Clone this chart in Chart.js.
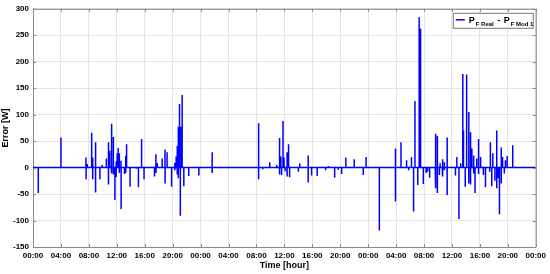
<!DOCTYPE html>
<html>
<head>
<meta charset="utf-8">
<script src="https://cdn.jsdelivr.net/npm/chart.js@4"></script>
<style>
  html, body { margin: 0; padding: 0; background: #fff; }
  #wrap { width: 550px; height: 274px; }
</style>
</head>
<body>
<div id="wrap"><canvas id="errChart" width="550" height="274"></canvas></div>
<script>
// --- Data (hours since start of day 1, error in W) ---
const xMin = 0, xMax = 72, xStep = 4;
const yMin = -150, yMax = 300, yStep = 50;

const spikeHours = [
  0.76, 4.0, 7.58, 7.6, 7.77, 8.4, 8.54, 8.56, 8.95, 8.97, 9.58, 9.9, 10.5, 10.8, 10.82,
  11.0, 11.2, 11.3, 11.5, 11.52, 11.73, 11.9, 11.92, 12.06, 12.2, 12.35, 12.37, 12.6, 12.62,
  13.1, 13.26, 13.28, 13.4, 13.9, 14.8, 15.1, 15.55, 15.9, 17.4, 17.6, 17.62, 17.8, 18.5,
  18.9, 18.92, 19.2, 19.85, 20.3, 20.32, 20.5, 20.65, 20.67, 20.8, 20.82, 20.98, 21.1, 21.2,
  21.36, 21.6, 22.3, 23.75, 25.65, 25.67,
  32.3, 32.32, 32.9, 33.9, 34.9, 35.3, 35.32, 35.5, 35.6, 35.8, 35.95, 36.1, 36.38, 36.4,
  36.6, 36.75, 38.0, 38.2, 39.4, 39.42, 39.9, 40.7, 41.9, 42.3, 43.2, 43.7, 44.2, 44.8,
  46.0, 47.3, 47.7, 49.6,
  51.9, 51.92, 52.7, 53.5, 53.8, 54.2, 54.5, 54.7, 55.1, 55.3, 55.5, 55.9, 56.3, 56.5, 56.8,
  57.6, 57.7, 57.9, 57.92, 58.2, 58.3, 58.6, 58.7, 58.9, 58.92, 59.3, 59.32, 60.5, 60.7,
  61.0, 61.25, 61.55, 61.65, 61.9, 62.1, 62.4, 62.42, 62.65, 62.67, 62.85, 63.1, 63.12,
  63.3, 63.55, 63.8, 63.82, 64.1, 64.5, 64.8, 65.4, 65.5, 65.7, 65.85, 66.15, 66.4, 66.42,
  66.6, 66.8, 67.05, 67.07, 67.25, 67.5, 67.65, 67.9, 68.7
];
const spikeErrors = [
  -48, 57, 19, -22, 7, 66, 19, -22, 48, -47, -22, 5, 17, 48, -32,
  32, 83, -11, 58, -13, -61, 12, -18, 27, 37, 27, -10, 13, -78,
  -12, 22, -10, 44, -36, -2, -37, 54, -22, -17, 25, -10, 8, 17,
  34, -30, 29, -36, 9, -5, 21, 41, -13, 77, -20, 120, -91, 77,
  137, -35, -16, -15, 29, -10,
  84, -22, -3, 10, 5, 56, -13, 21, -14, 88, 19, -7, 29, -17,
  44, -18, -8, 8, 23, -28, -15, -16, -5, 3, -19, -4, -12, 19,
  16, -14, 20, -119,
  36, -64, 48, 14, -5, 20, -83, 126, -33, 284, 263, -31, -10, -8, -19,
  -39, 64, 60, -48, -14, 8, -17, 16, 10, -5, 57, -52, -15, 20,
  -97, 8, 177, 70, -36, 176, 105, -30, 67, -32, 36, 23, -11,
  -48, 17, 54, -12, 20, -14, -37, -8, 48, -35, 27, -25, 70, -39,
  -20, -88, 38, -30, 20, -11, 14, 22, 42
];

// each spike: go up/down from zero and back at the same time stamp
const points = [{ x: xMin, y: 0 }];
spikeHours.forEach((t, i) => {
  points.push({ x: t, y: 0 }, { x: t, y: spikeErrors[i] }, { x: t, y: 0 });
});
points.push({ x: xMax, y: 0 });

const tickFont = { family: "'Liberation Sans', Arial, sans-serif", size: 8, weight: "bold" };
const titleFont = { family: "'Liberation Sans', Arial, sans-serif", size: 9, weight: "bold" };

// --- Legend with subscripts, drawn inside the plot ---
const subLegend = {
  id: "subLegend",
  afterDraw(chart) {
    const ctx = chart.ctx;
    const a = chart.chartArea;
    const x0 = a.right - 83, y0 = a.top + 4, w = 80, h = 15;
    ctx.save();
    ctx.fillStyle = "#fff";
    ctx.fillRect(x0, y0, w, h);
    ctx.strokeStyle = "#777";
    ctx.lineWidth = 1;
    ctx.strokeRect(x0 + 0.5, y0 + 0.5, w, h);
    ctx.strokeStyle = "#0000ff";
    ctx.lineWidth = 1.5;
    ctx.beginPath();
    ctx.moveTo(x0 + 3, y0 + 7);
    ctx.lineTo(x0 + 12, y0 + 7);
    ctx.stroke();
    ctx.fillStyle = "#000";
    ctx.textBaseline = "alphabetic";
    const big = "bold 9px 'Liberation Sans', Arial, sans-serif";
    const small = "bold 6px 'Liberation Sans', Arial, sans-serif";
    let x = x0 + 16;
    const yb = y0 + 10;
    const parts = [
      ["P", big, 0], ["F Real", small, 3], [" - ", big, 0], ["P", big, 0], ["F Mod 1", small, 3]
    ];
    parts.forEach(([txt, font, dy]) => {
      ctx.font = font;
      ctx.fillText(txt, x, yb + dy);
      x += ctx.measureText(txt).width + 1;
    });
    ctx.restore();
  }
};

// --- Box frame and inward tick marks like the original axes ---
const boxFrame = {
  id: "boxFrame",
  afterDraw(chart) {
    const a = chart.chartArea, ctx = chart.ctx;
    const xs = chart.scales.x, ys = chart.scales.y;
    ctx.save();
    ctx.strokeStyle = "#888";
    ctx.lineWidth = 1;
    ctx.beginPath();
    ctx.moveTo(a.left, a.top + 0.5);
    ctx.lineTo(a.right + 0.5, a.top + 0.5);
    ctx.lineTo(a.right + 0.5, a.bottom);
    xs.ticks.forEach(t => {
      const px = Math.round(xs.getPixelForValue(t.value)) + 0.5;
      ctx.moveTo(px, a.top); ctx.lineTo(px, a.top + 3);
      ctx.moveTo(px, a.bottom); ctx.lineTo(px, a.bottom - 3);
    });
    ys.ticks.forEach(t => {
      const py = Math.round(ys.getPixelForValue(t.value)) + 0.5;
      ctx.moveTo(a.left, py); ctx.lineTo(a.left + 3, py);
      ctx.moveTo(a.right, py); ctx.lineTo(a.right - 3, py);
    });
    ctx.stroke();
    ctx.restore();
  }
};

new Chart(document.getElementById("errChart"), {
  type: "line",
  data: {
    datasets: [{
      label: "P F Real - P F Mod 1",
      data: points,
      borderColor: "#0000ff",
      borderWidth: 1.5,
      pointRadius: 0,
      fill: false,
      tension: 0
    }]
  },
  options: {
    responsive: false,
    animation: false,
    parsing: false,
    layout: { padding: { top: 7, right: 14, left: 0, bottom: 0 } },
    plugins: { legend: { display: false }, tooltip: { enabled: false } },
    scales: {
      x: {
        type: "linear",
        min: xMin,
        max: xMax,
        afterFit: s => { s.height = 27; },
        ticks: {
          stepSize: xStep,
          color: "#000",
          font: tickFont,
          padding: 4,
          maxRotation: 0,
          autoSkip: false,
          callback: v => String(v % 24).padStart(2, "0") + ":00"
        },
        grid: { color: "#e4e4e4", drawTicks: false },
        border: { color: "#888", width: 1 },
        title: { display: true, text: "Time [hour]", color: "#000", font: titleFont, padding: { top: 0, bottom: 3 } }
      },
      y: {
        min: yMin,
        max: yMax,
        afterFit: s => { s.width = 33; },
        ticks: { stepSize: yStep, color: "#000", font: tickFont, padding: 4 },
        grid: { color: "#e4e4e4", drawTicks: false },
        border: { color: "#888", width: 1 },
        title: { display: true, text: "Error [W]", color: "#000", font: titleFont, padding: { top: 0, bottom: 0 } }
      }
    }
  },
  plugins: [subLegend, boxFrame]
});
</script>
</body>
</html>
